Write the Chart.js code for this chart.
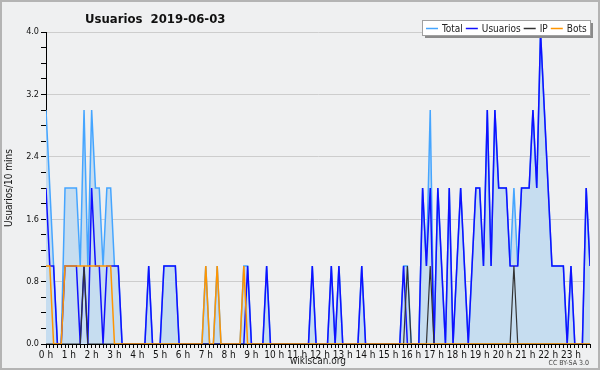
<!DOCTYPE html>
<html>
<head>
<meta charset="utf-8">
<script src="https://cdn.jsdelivr.net/npm/chart.js@4/dist/chart.umd.min.js"></script>
<style>
html,body{margin:0;padding:0;background:#eff0f1;}
canvas{display:block;}
</style>
</head>
<body>
<canvas id="c" width="600" height="370"></canvas>
<script>
// Ten-minute slots 0..143 (00:00 to 23:50)
const slots = Array.from({length:144}, (_, i) => i);
const hourLabels = ["0 h","1 h","2 h","3 h","4 h","5 h","6 h","7 h","8 h","9 h","10 h","11 h","12 h","13 h","14 h","15 h","16 h","17 h","18 h","19 h","20 h","21 h","22 h","23 h"];
const yTickLabels = ["0.0","0.8","1.6","2.4","3.2","4.0"];
const seriesNames = ["Total","Usuarios","IP","Bots"];

const totalValues = [
 3,2,1,0,0,2,2,2,2,1,3,1,3,2,2,1,2,2,1,1,0,0,0,0,
 0,0,0,1,0,0,0,1,1,1,1,0,0,0,0,0,0,0,1,0,0,1,0,0,
 0,0,0,0,1,1,0,0,0,0,1,0,0,0,0,0,0,0,0,0,0,0,1,0,
 0,0,0,1,0,1,0,0,0,0,0,1,0,0,0,0,0,0,0,0,0,0,1,1,
 0,0,0,2,1,3,0,2,1,0,2,0,1,2,1,0,1,2,2,1,3,1,3,2,
 2,2,1,2,1,2,2,2,3,2,4,3,2,1,1,1,1,0,1,0,0,0,2,1
];
const usuariosValues = [
 2,1,1,0,0,1,1,1,1,0,1,0,2,1,1,0,1,1,1,1,0,0,0,0,
 0,0,0,1,0,0,0,1,1,1,1,0,0,0,0,0,0,0,0,0,0,0,0,0,
 0,0,0,0,0,1,0,0,0,0,1,0,0,0,0,0,0,0,0,0,0,0,1,0,
 0,0,0,1,0,1,0,0,0,0,0,1,0,0,0,0,0,0,0,0,0,0,1,0,
 0,0,0,2,1,2,0,2,1,0,2,0,1,2,1,0,1,2,2,1,3,1,3,2,
 2,2,1,1,1,2,2,2,3,2,4,3,2,1,1,1,1,0,1,0,0,0,2,1
];
const ipValues = [
 0,0,0,0,0,0,0,0,0,0,1,0,0,0,0,0,0,0,0,0,0,0,0,0,
 0,0,0,0,0,0,0,0,0,0,0,0,0,0,0,0,0,0,0,0,0,0,0,0,
 0,0,0,0,0,0,0,0,0,0,0,0,0,0,0,0,0,0,0,0,0,0,0,0,
 0,0,0,0,0,0,0,0,0,0,0,0,0,0,0,0,0,0,0,0,0,0,0,1,
 0,0,0,0,0,1,0,0,0,0,0,0,0,0,0,0,0,0,0,0,0,0,0,0,
 0,0,0,1,0,0,0,0,0,0,0,0,0,0,0,0,0,0,0,0,0,0,0,0
];
const botsValues = [
 1,1,0,0,0,1,1,1,1,1,1,1,1,1,1,1,1,1,0,0,0,0,0,0,
 0,0,0,0,0,0,0,0,0,0,0,0,0,0,0,0,0,0,1,0,0,1,0,0,
 0,0,0,0,1,0,0,0,0,0,0,0,0,0,0,0,0,0,0,0,0,0,0,0,
 0,0,0,0,0,0,0,0,0,0,0,0,0,0,0,0,0,0,0,0,0,0,0,0,
 0,0,0,0,0,0,0,0,0,0,0,0,0,0,0,0,0,0,0,0,0,0,0,0,
 0,0,0,0,0,0,0,0,0,0,0,0,0,0,0,0,0,0,0,0,0,0,0,0
];

const FONT = "'DejaVu Sans Condensed','DejaVu Sans',sans-serif";
const toXY = vals => slots.map((s, i) => ({x: s, y: vals[i]}));

const decor = {
  id: 'decor',
  beforeDraw(chart) {
    const ctx = chart.ctx;
    ctx.save();
    ctx.fillStyle = '#eff0f1';
    ctx.fillRect(0, 0, chart.width, chart.height);
    ctx.restore();
  },
  afterDraw(chart) {
    const ctx = chart.ctx;
    ctx.save();
    // outer border
    ctx.strokeStyle = '#b4b4b4';
    ctx.lineWidth = 2;
    ctx.strokeRect(1, 1, chart.width - 2, chart.height - 2);
    // title
    ctx.fillStyle = '#111';
    ctx.font = "bold 13px " + FONT;
    ctx.textBaseline = 'alphabetic';
    ctx.textAlign = 'left';
    ctx.fillText('Usuarios  2019-06-03', 85, 23);
    // credit
    ctx.font = "7px " + FONT;
    ctx.fillStyle = '#444';
    ctx.textAlign = 'right';
    ctx.fillText('CC BY-SA 3.0', 589, 365);
    // legend box
    const bx = 422, by = 20, bw = 168, bh = 15;
    ctx.fillStyle = '#8a8a8a';
    ctx.fillRect(bx + 3, by + 3, bw, bh);
    ctx.fillStyle = '#ffffff';
    ctx.fillRect(bx, by, bw, bh);
    ctx.strokeStyle = '#a0a0a0';
    ctx.lineWidth = 1;
    ctx.strokeRect(bx + 0.5, by + 0.5, bw, bh);
    ctx.font = "10px " + FONT;
    ctx.textAlign = 'left';
    ctx.textBaseline = 'middle';
    let x = bx + 4;
    const ly = by + 8;
    chart.data.datasets.forEach(ds => {
      ctx.strokeStyle = ds.borderColor;
      ctx.lineWidth = 1.5;
      ctx.beginPath();
      ctx.moveTo(x, ly + 0.5);
      ctx.lineTo(x + 12, ly + 0.5);
      ctx.stroke();
      x += 16;
      ctx.fillStyle = '#222';
      ctx.fillText(ds.label, x, ly + 1);
      x += ctx.measureText(ds.label).width + 3;
    });
    ctx.restore();
  }
};

new Chart(document.getElementById('c'), {
  type: 'line',
  data: {
    datasets: [
      {label: seriesNames[0], data: toXY(totalValues), borderColor: '#45a5ff', backgroundColor: '#c6ddf0', fill: 'origin', borderWidth: 1.5, pointRadius: 0, tension: 0, order: 4},
      {label: seriesNames[1], data: toXY(usuariosValues), borderColor: '#1010ff', backgroundColor: '#1010ff', fill: false, borderWidth: 1.5, pointRadius: 0, tension: 0, order: 3},
      {label: seriesNames[2], data: toXY(ipValues), borderColor: '#333333', backgroundColor: '#333333', fill: false, borderWidth: 1.2, pointRadius: 0, tension: 0, order: 2},
      {label: seriesNames[3], data: toXY(botsValues), borderColor: '#ff9500', backgroundColor: '#ff9500', fill: false, borderWidth: 1.5, pointRadius: 0, tension: 0, order: 1}
    ]
  },
  options: {
    responsive: false,
    animation: false,
    devicePixelRatio: 1,
    layout: {padding: {top: 32, right: 10, left: 0, bottom: 0}},
    plugins: {legend: {display: false}, title: {display: false}, tooltip: {enabled: false}},
    scales: {
      x: {
        type: 'linear', min: 0, max: 143,
        afterFit: s => { s.height = 26; },
        border: {display: true, color: '#000', width: 1},
        grid: {drawOnChartArea: false, drawTicks: true, tickLength: 4, tickColor: '#000', tickWidth: 1},
        ticks: {
          stepSize: 1, autoSkip: false, maxRotation: 0, minRotation: 0, padding: 1,
          color: '#111', font: {family: FONT, size: 10},
          callback: v => (v % 6 === 0 ? hourLabels[v / 6] : '')
        },
        title: {display: true, text: 'wikiscan.org', color: '#222', font: {family: FONT, size: 10}, padding: {top: 0, bottom: 3}}
      },
      y: {
        min: 0, max: 4,
        afterFit: s => { s.width = 46; },
        border: {display: true, color: '#000', width: 1},
        grid: {
          drawTicks: true, tickLength: 5, tickColor: '#000', tickWidth: 1,
          color: c => (Math.round(c.tick.value * 10) % 8 === 0 && c.tick.value > 0 ? '#cdcdcd' : 'rgba(0,0,0,0)')
        },
        ticks: {
          stepSize: 0.2, autoSkip: false, padding: 2,
          color: '#111', font: {family: FONT, size: 9},
          callback: v => { const k = Math.round(v * 10); return k % 8 === 0 ? yTickLabels[k / 8] : ''; }
        },
        title: {display: true, text: 'Usuarios/10 mins', color: '#111', font: {family: FONT, size: 10}, padding: {top: 3, bottom: 0}}
      }
    }
  },
  plugins: [decor]
});
</script>
</body>
</html>
